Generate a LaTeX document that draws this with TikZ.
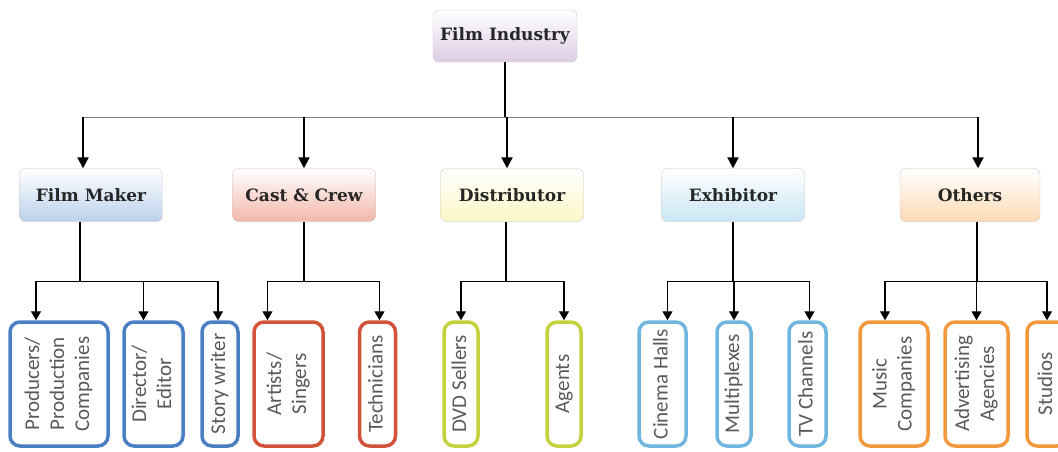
\documentclass[tikz,border=0pt]{standalone}
\usepackage{fontspec}
\usepackage{graphicx}
\usetikzlibrary{arrows.meta}
\newfontfamily\headfont{DejaVu Serif}
\newfontfamily\leaffont{Carlito}
\definecolor{topfill}{HTML}{DCCDE4}
\definecolor{fmfill}{HTML}{BCD0EC}
\definecolor{ccfill}{HTML}{F2B7AA}
\definecolor{dsfill}{HTML}{FBF7C6}
\definecolor{exfill}{HTML}{C9E5F3}
\definecolor{otfill}{HTML}{FDDAB6}
\definecolor{fmline}{HTML}{4A7FC6}
\definecolor{ccline}{HTML}{D2523A}
\definecolor{dsline}{HTML}{C3D23C}
\definecolor{exline}{HTML}{6FB5DF}
\definecolor{otline}{HTML}{F2983C}
\newcommand\vtext[1]{\rotatebox{90}{\begin{tabular}{@{}c@{}}#1\end{tabular}}}

\begin{document}
\begin{tikzpicture}[x=1pt, y=-1pt,
    head/.style={draw=gray!45, rounded corners=6pt, top color=white, bottom color=#1,
        minimum width=143pt, minimum height=53pt, text=black!85,
        font=\headfont\bfseries\fontsize{17}{20}\selectfont},
    leaf/.style={draw=#1, line width=3.5pt, rounded corners=10pt, minimum height=124pt,
        inner sep=0pt, text=black!65, font=\leaffont\fontsize{21}{25}\selectfont},
    link/.style={line width=2pt},
    bar/.style={line width=1.2pt},
    arr/.style={-{Triangle[width=11pt,length=11pt]}, line width=2pt},
    sub/.style={-{Triangle[width=10pt,length=9pt]}, line width=1.4pt}]
    \useasboundingbox (0,0) rectangle (1058,452);
    % Top
    \node[head=topfill, minimum width=144pt, minimum height=52pt] (film) at (505,36) {Film Industry};
    % Level 2
    \node[head=fmfill] (fm) at (91,195) {Film Maker};
    \node[head=ccfill] (cc) at (304,195) {Cast \& Crew};
    \node[head=dsfill] (dist) at (512,195) {Distributor};
    \node[head=exfill] (exh) at (733,195) {Exhibitor};
    \node[head=otfill, minimum width=140pt] (oth) at (970,195) {Others};
    % Level 3
    \node[leaf=fmline, minimum width=98pt] (prod) at (59,384) {\vtext{Producers/\\Production\\Companies}};
    \node[leaf=fmline, minimum width=59pt] (dir) at (153.5,384) {\vtext{Director/\\Editor}};
    \node[leaf=fmline, minimum width=36pt] (story) at (220,384) {\vtext{Story writer}};
    \node[leaf=ccline, minimum width=69pt] (art) at (288.5,384) {\vtext{Artists/\\Singers}};
    \node[leaf=ccline, minimum width=36pt] (tech) at (377.5,384) {\vtext{Technicians}};
    \node[leaf=dsline, minimum width=34pt] (dvd) at (461,384) {\vtext{DVD Sellers}};
    \node[leaf=dsline, minimum width=34pt] (agt) at (564,384) {\vtext{Agents}};
    \node[leaf=exline, minimum width=47pt] (cin) at (662.5,384) {\vtext{Cinema Halls}};
    \node[leaf=exline, minimum width=34pt] (mult) at (734,384) {\vtext{Multiplexes}};
    \node[leaf=exline, minimum width=37pt] (tv) at (807.5,384) {\vtext{TV Channels}};
    \node[leaf=otline, minimum width=68pt] (mus) at (894,384) {\vtext{Music\\Companies}};
    \node[leaf=otline, minimum width=63pt] (adv) at (976.5,384) {\vtext{Advertising\\Agencies}};
    \node[leaf=otline, minimum width=40pt] (stu) at (1047,384) {\vtext{Studios}};
    % Film Industry -> level 2
    \draw[link] (film.south) -- ++(0,55) coordinate (b0);
    \draw[gray, line width=0.8pt] ([xshift=-8pt]fm.north |- b0) -- ([xshift=8pt]oth.north |- b0);
    \foreach \n/\dx in {fm/-8, cc/0, dist/-5, exh/0, oth/8}
        \draw[arr] ([xshift=\dx pt]\n.north |- b0) -- ([xshift=\dx pt]\n.north);
    % Film Maker
    \draw[link] ([xshift=-11pt]fm.south) -- ++(0,59.5) coordinate (b1);
    \draw[bar] ([xshift=-23pt]prod.north |- b1) -- ([xshift=-2pt]story.north |- b1);
    \foreach \n/\dx in {prod/-23, dir/-10, story/-2}
        \draw[sub] ([xshift=\dx pt]\n.north |- b1) -- ([xshift=\dx pt]\n.north);
    % Cast & Crew
    \draw[link] (cc.south) -- ++(0,59.5) coordinate (b2);
    \draw[bar] ([xshift=-21pt]art.north |- b2) -- ([xshift=2pt]tech.north |- b2);
    \foreach \n/\dx in {art/-21, tech/2}
        \draw[sub] ([xshift=\dx pt]\n.north |- b2) -- ([xshift=\dx pt]\n.north);
    % Distributor
    \draw[link] ([xshift=-6pt]dist.south) -- ++(0,59.5) coordinate (b3);
    \draw[bar] (dvd.north |- b3) -- (agt.north |- b3);
    \foreach \n in {dvd, agt}
        \draw[sub] (\n.north |- b3) -- (\n.north);
    % Exhibitor
    \draw[link] (exh.south) -- ++(0,59.5) coordinate (b4);
    \draw[bar] ([xshift=5pt]cin.north |- b4) -- ([xshift=2pt]tv.north |- b4);
    \foreach \n/\dx in {cin/5, mult/0, tv/2}
        \draw[sub] ([xshift=\dx pt]\n.north |- b4) -- ([xshift=\dx pt]\n.north);
    % Others
    \draw[link] ([xshift=7pt]oth.south) -- ++(0,59.5) coordinate (b5);
    \draw[bar] ([xshift=-9pt]mus.north |- b5) -- (stu.north |- b5);
    \foreach \n/\dx in {mus/-9, adv/0, stu/0}
        \draw[sub] ([xshift=\dx pt]\n.north |- b5) -- ([xshift=\dx pt]\n.north);
\end{tikzpicture}
\end{document}
